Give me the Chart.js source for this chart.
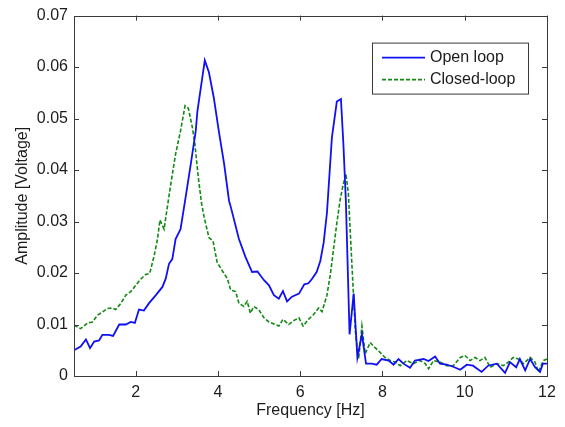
<!DOCTYPE html>
<html>
<head>
<meta charset="utf-8">
<script src="https://cdn.jsdelivr.net/npm/chart.js@4"></script>
<style>
  html, body { margin: 0; padding: 0; background: #fff; }
  #wrap { width: 565px; height: 427px; }
</style>
</head>
<body>
<div id="wrap"><canvas id="chart" width="565" height="427"></canvas></div>
<script>
// open loop response (blue, solid)
const openFreq = [0.5, 0.66, 0.79, 0.89, 0.99, 1.11, 1.19, 1.35, 1.45, 1.6, 1.76, 1.88, 1.98, 2.08, 2.2, 2.32, 2.49, 2.65, 2.73, 2.81, 2.89, 2.97, 3.09, 3.2, 3.34, 3.46, 3.5, 3.68, 3.78, 3.9, 4.02, 4.15, 4.27, 4.31, 4.51, 4.67, 4.83, 4.96, 5.12, 5.24, 5.36, 5.48, 5.58, 5.68, 5.8, 5.97, 6.1, 6.2, 6.28, 6.4, 6.49, 6.57, 6.65, 6.77, 6.89, 6.99, 7.05, 7.11, 7.2, 7.3, 7.39, 7.5, 7.6, 7.74, 7.86, 7.98, 8.15, 8.27, 8.39, 8.51, 8.67, 8.79, 9.0, 9.12, 9.28, 9.4, 9.56, 9.72, 9.89, 10.05, 10.2, 10.41, 10.57, 10.78, 10.98, 11.1, 11.25, 11.34, 11.47, 11.59, 11.71, 11.83, 11.9, 12.0];
const openAmp = [0.0050, 0.0057, 0.0071, 0.0054, 0.0067, 0.0069, 0.0080, 0.0080, 0.0078, 0.0100, 0.0100, 0.0105, 0.0103, 0.0129, 0.0127, 0.0141, 0.0157, 0.0173, 0.0189, 0.0218, 0.0227, 0.0266, 0.0285, 0.0340, 0.0412, 0.0476, 0.0514, 0.0613, 0.0590, 0.0540, 0.0476, 0.0412, 0.0340, 0.0329, 0.0266, 0.0231, 0.0202, 0.0203, 0.0186, 0.0176, 0.0157, 0.0150, 0.0165, 0.0145, 0.0154, 0.0160, 0.0178, 0.0180, 0.0188, 0.0202, 0.0224, 0.0259, 0.0317, 0.0463, 0.0533, 0.0538, 0.0450, 0.0340, 0.0081, 0.0160, 0.0036, 0.0081, 0.0024, 0.0024, 0.0022, 0.0033, 0.0030, 0.0022, 0.0033, 0.0024, 0.0016, 0.0030, 0.0033, 0.0029, 0.0038, 0.0024, 0.0022, 0.0018, 0.0012, 0.0022, 0.0020, 0.0008, 0.0020, 0.0024, 0.0006, 0.0027, 0.0017, 0.0033, 0.0011, 0.0033, 0.0017, 0.0008, 0.0024, 0.0024];

// closed loop response (green, dashed)
const closedFreq = [0.5, 0.66, 0.83, 0.95, 1.07, 1.19, 1.31, 1.43, 1.51, 1.64, 1.76, 1.88, 2.0, 2.12, 2.24, 2.34, 2.45, 2.53, 2.59, 2.69, 2.73, 2.85, 2.97, 3.09, 3.2, 3.28, 3.38, 3.44, 3.52, 3.6, 3.66, 3.78, 3.88, 3.98, 4.1, 4.23, 4.31, 4.43, 4.51, 4.63, 4.71, 4.79, 4.87, 4.99, 5.12, 5.24, 5.36, 5.48, 5.58, 5.72, 5.85, 5.97, 6.07, 6.2, 6.32, 6.45, 6.53, 6.65, 6.73, 6.81, 6.89, 6.97, 7.04, 7.11, 7.17, 7.25, 7.34, 7.42, 7.5, 7.58, 7.7, 7.82, 7.94, 8.06, 8.19, 8.31, 8.43, 8.59, 8.75, 8.91, 9.04, 9.12, 9.24, 9.4, 9.56, 9.72, 9.89, 10.0, 10.13, 10.25, 10.37, 10.49, 10.62, 10.78, 10.94, 11.06, 11.18, 11.3, 11.43, 11.59, 11.71, 11.79, 11.91, 12.0];
const closedAmp = [0.0099, 0.0092, 0.0103, 0.0105, 0.0118, 0.0124, 0.0131, 0.0132, 0.0129, 0.0141, 0.0157, 0.0164, 0.0176, 0.0188, 0.0197, 0.0199, 0.0234, 0.0266, 0.0303, 0.0285, 0.0307, 0.0371, 0.0431, 0.0476, 0.0525, 0.0520, 0.0482, 0.0450, 0.0387, 0.0336, 0.0310, 0.0269, 0.0262, 0.0221, 0.0205, 0.0189, 0.0167, 0.0164, 0.0141, 0.0135, 0.0145, 0.0122, 0.0135, 0.0129, 0.0113, 0.0105, 0.0101, 0.0097, 0.0110, 0.0100, 0.0108, 0.0113, 0.0097, 0.0110, 0.0119, 0.0132, 0.0125, 0.0157, 0.0196, 0.0246, 0.0297, 0.0342, 0.0370, 0.0393, 0.0355, 0.0227, 0.0087, 0.0033, 0.0097, 0.0043, 0.0065, 0.0055, 0.0046, 0.0036, 0.0030, 0.0027, 0.0020, 0.0030, 0.0024, 0.0030, 0.0024, 0.0014, 0.0030, 0.0027, 0.0020, 0.0020, 0.0036, 0.0040, 0.0030, 0.0036, 0.0030, 0.0036, 0.0017, 0.0024, 0.0020, 0.0027, 0.0036, 0.0033, 0.0024, 0.0036, 0.0027, 0.0008, 0.0030, 0.0033];

const xTicks = [2, 4, 6, 8, 10, 12];
const yTicks = [0, 0.01, 0.02, 0.03, 0.04, 0.05, 0.06, 0.07];

const FONT = '"Liberation Sans", Arial, Helvetica, sans-serif';
const TEXT = '#1c1c1c';
const AXIS = '#3a3a3a';

const toPoints = (xs, ys) => xs.map((x, i) => ({ x, y: ys[i] }));

// matlab style box with inward ticks on all four sides
const boxPlugin = {
  id: 'box',
  afterDraw(chart) {
    const { ctx, chartArea: a, scales } = chart;
    const len = 5;
    ctx.save();
    ctx.strokeStyle = AXIS;
    ctx.lineWidth = 1;
    ctx.beginPath();
    xTicks.forEach(v => {
      const px = Math.round(scales.x.getPixelForValue(v)) + 0.5;
      ctx.moveTo(px, a.bottom); ctx.lineTo(px, a.bottom - len);
      ctx.moveTo(px, a.top); ctx.lineTo(px, a.top + len);
    });
    yTicks.forEach(v => {
      const py = Math.round(scales.y.getPixelForValue(v)) + 0.5;
      ctx.moveTo(a.left, py); ctx.lineTo(a.left + len, py);
      ctx.moveTo(a.right, py); ctx.lineTo(a.right - len, py);
    });
    ctx.stroke();
    ctx.strokeRect(Math.round(a.left) + 0.5, Math.round(a.top) + 0.5,
      Math.round(a.right - a.left), Math.round(a.bottom - a.top));
    ctx.restore();
  }
};

// legend box inside the axes, top right
const legendPlugin = {
  id: 'boxLegend',
  afterDraw(chart) {
    const { ctx, chartArea: a } = chart;
    const x0 = a.right - 175, y0 = a.top + 27, w = 156, h = 51;
    ctx.save();
    ctx.fillStyle = '#fff';
    ctx.fillRect(x0, y0, w, h);
    ctx.strokeStyle = AXIS;
    ctx.lineWidth = 1;
    ctx.strokeRect(x0 + 0.5, y0 + 0.5, w, h);
    ctx.font = '16px ' + FONT;
    ctx.textBaseline = 'middle';
    chart.data.datasets.forEach((ds, i) => {
      const cy = y0 + 15 + i * 22;
      ctx.strokeStyle = ds.borderColor;
      ctx.lineWidth = ds.borderWidth;
      ctx.setLineDash(ds.borderDash || []);
      ctx.beginPath();
      ctx.moveTo(x0 + 10, cy);
      ctx.lineTo(x0 + 53, cy);
      ctx.stroke();
      ctx.setLineDash([]);
      ctx.fillStyle = TEXT;
      ctx.fillText(ds.label, x0 + 58, cy);
    });
    ctx.restore();
  }
};

new Chart(document.getElementById('chart'), {
  type: 'line',
  data: {
    datasets: [{
      label: 'Open loop',
      data: toPoints(openFreq, openAmp),
      borderColor: '#1010f4',
      borderWidth: 1.8,
      pointRadius: 0,
      tension: 0
    }, {
      label: 'Closed-loop',
      data: toPoints(closedFreq, closedAmp),
      borderColor: '#118a11',
      borderWidth: 1.6,
      borderDash: [4, 2],
      pointRadius: 0,
      tension: 0
    }]
  },
  options: {
    responsive: false,
    animation: false,
    layout: { padding: { top: 9, right: 18, left: 0, bottom: 0 } },
    plugins: {
      legend: { display: false },
      tooltip: { enabled: false }
    },
    scales: {
      x: {
        type: 'linear',
        min: 0.5,
        max: 12,
        grid: { display: false, drawTicks: false },
        border: { display: false },
        afterBuildTicks: s => { s.ticks = xTicks.map(v => ({ value: v })); },
        afterFit: s => { s.height = 51; },
        ticks: { color: TEXT, font: { family: FONT, size: 16 }, padding: 7, maxRotation: 0 },
        title: { display: true, text: 'Frequency [Hz]', color: TEXT, font: { family: FONT, size: 16 }, padding: { top: 0, bottom: 7 } }
      },
      y: {
        type: 'linear',
        min: 0,
        max: 0.07,
        grid: { display: false, drawTicks: false },
        border: { display: false },
        afterBuildTicks: s => { s.ticks = yTicks.map(v => ({ value: v })); },
        afterFit: s => { s.width = 74; },
        ticks: { color: TEXT, font: { family: FONT, size: 16 }, padding: 6 },
        title: { display: true, text: 'Amplitude [Voltage]', color: TEXT, font: { family: FONT, size: 16 }, padding: { top: 13, bottom: 0 } }
      }
    }
  },
  plugins: [boxPlugin, legendPlugin]
});
</script>
</body>
</html>
